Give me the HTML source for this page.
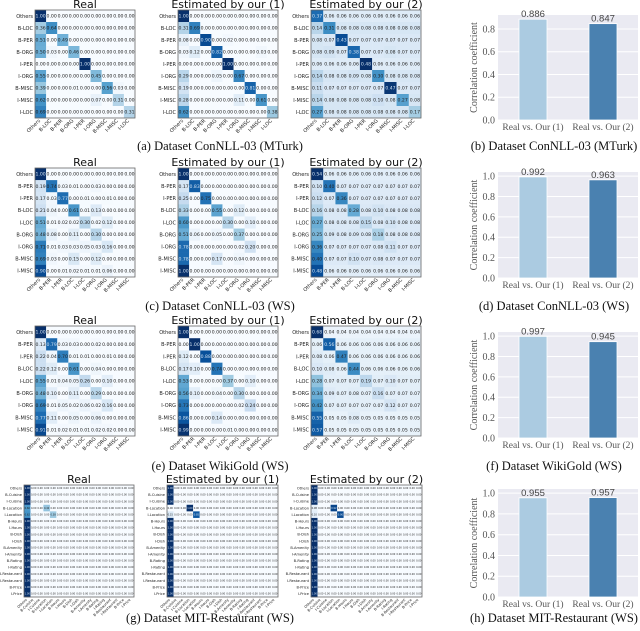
<!DOCTYPE html>
<html><head><meta charset="utf-8">
<style>
html,body{margin:0;padding:0;background:#fff;}
svg{display:block;}
</style></head>
<body>
<svg id="fig" width="640" height="631" viewBox="0 0 640 631" xmlns="http://www.w3.org/2000/svg"></svg>
<script>
// ---------- DATA ----------
const conllMturkLabels = ["Others","B-LOC","B-PER","B-ORG","I-PER","I-ORG","B-MISC","I-MISC","I-LOC"];
const conllWsLabels = ["Others","B-PER","I-PER","B-LOC","I-LOC","B-ORG","I-ORG","B-MISC","I-MISC"];
const mitLabels = ["Others","B-Cuisine","I-Cuisine","B-Location","I-Location","B-Hours","I-Hours","B-Dish","I-Dish","B-Amenity","I-Amenity","B-Rating","I-Rating","B-Restaurant","I-Restaurant","B-Price","I-Price"];

const aReal = [
[1,0,0,0,0,0,0,0,0],[.36,.64,0,0,0,0,0,0,0],[.51,0,.49,0,0,0,0,0,0],[.50,.03,0,.46,0,0,0,0,0],
[0,0,0,0,1,0,0,0,0],[.55,0,0,0,0,.45,0,0,0],[.39,0,0,.01,0,0,.56,.03,0],[.62,0,0,0,0,.07,0,.31,0],[.69,0,0,0,0,0,0,0,.31]];
const aEst1 = [
[1,0,0,0,0,0,0,0,0],[.31,.69,0,0,0,0,0,0,0],[.08,0,.90,0,.02,0,0,0,0],[.03,.12,0,.82,0,0,0,.03,0],
[0,0,0,0,1,0,0,0,0],[.29,0,0,.05,0,.67,0,0,0],[.19,0,0,0,0,0,.81,0,0],[.28,0,0,0,0,.11,0,.61,0],[.62,0,0,0,0,0,0,0,.38]];
const aEst2 = [
[.37,.06,.06,.06,.06,.06,.06,.06,.06],[.14,.31,.08,.08,.08,.08,.08,.08,.08],[.08,.07,.43,.07,.07,.07,.07,.07,.07],
[.08,.09,.07,.38,.07,.07,.08,.07,.07],[.06,.06,.06,.06,.48,.06,.06,.06,.06],[.14,.08,.08,.09,.08,.30,.08,.08,.08],
[.11,.07,.07,.07,.07,.07,.47,.07,.07],[.14,.08,.08,.08,.08,.10,.08,.27,.08],[.27,.08,.08,.08,.08,.08,.08,.08,.17]];

const cReal = [
[1,0,0,0,0,0,0,0,0],[.19,.74,.03,.01,0,.03,0,0,0],[.17,.03,.77,0,.01,0,.01,0,0],[.21,.04,0,.61,.01,.13,0,0,0],
[.51,.01,.02,.02,.30,.02,.12,0,0],[.48,.08,0,.11,0,.30,0,0,0],[.71,.01,.03,.03,.05,.03,.16,0,0],
[.69,.03,0,.15,0,.12,0,0,0],[.90,0,.01,.02,.01,.01,.06,0,0]];
const cEst1 = [
[1,0,0,0,0,0,0,0,0],[.17,.83,0,0,0,0,0,0,0],[.25,0,.75,0,0,0,0,0,0],[.33,0,0,.55,0,.12,0,0,0],
[.60,0,0,0,.30,0,.10,0,0],[.51,.06,0,.05,0,.37,0,0,0],[.78,0,0,0,0,.02,.20,0,0],
[.78,0,0,.17,0,.04,0,0,0],[1,0,0,0,0,0,0,0,0]];
const cEst2 = [
[.54,.06,.06,.06,.06,.06,.06,.06,.06],[.10,.40,.07,.07,.07,.07,.07,.07,.07],[.12,.07,.36,.07,.07,.07,.07,.07,.07],
[.16,.08,.08,.28,.08,.10,.08,.08,.08],[.27,.08,.08,.08,.15,.08,.10,.08,.08],[.25,.09,.08,.09,.08,.18,.08,.08,.08],
[.36,.07,.07,.07,.07,.08,.11,.07,.07],[.40,.07,.07,.10,.07,.08,.07,.07,.07],[.48,.06,.06,.06,.06,.06,.06,.06,.06]];

const eReal = [
[1,0,0,0,0,0,0,0,0],[.13,.79,.03,.03,0,.02,0,0,0],[.22,.04,.70,.01,.01,0,.01,0,0],[.22,.12,0,.61,0,.04,0,0,0],
[.55,.01,.04,.05,.26,0,.10,0,0],[.48,.10,0,.11,0,.29,0,0,0],[.69,.01,.05,.02,.06,.02,.16,0,0],
[.77,.11,0,.05,0,.06,0,0,0],[.91,.01,.02,.01,.01,.02,.02,0,0]];
const eEst1 = [
[1,0,0,0,0,0,0,0,0],[0,1,0,0,0,0,0,0,0],[.12,0,.88,0,0,0,0,0,0],[.17,.10,0,.74,0,0,0,0,0],
[.53,0,0,0,.37,0,.10,0,0],[.56,.10,0,.04,0,.30,0,0,0],[.73,0,0,0,0,.02,.24,0,0],
[.86,0,0,.14,0,0,0,0,0],[.99,0,0,0,.01,0,0,0,0]];
const eEst2 = [
[.68,.04,.04,.04,.04,.04,.04,.04,.04],[.06,.56,.06,.06,.06,.06,.06,.06,.06],[.08,.06,.47,.06,.06,.06,.06,.06,.06],
[.10,.08,.06,.44,.06,.06,.06,.06,.06],[.28,.07,.07,.07,.19,.07,.10,.07,.07],[.34,.09,.07,.08,.07,.16,.07,.07,.07],
[.42,.07,.07,.07,.07,.07,.12,.07,.07],[.55,.05,.05,.08,.05,.05,.05,.05,.05],[.57,.05,.05,.05,.05,.05,.05,.05,.05]];

// MIT-Restaurant: "Others" column per row, plus off-Others cells [row, col, value]
const gRealOthers = [1,1,1,.60,.62,1,1,1,1,1,1,1,1,1,1,1,1];
const gRealCells = [[3,3,.40],[4,4,.38]];
const gEst1Others = [1,1,1,0,.15,1,1,1,1,1,1,1,1,1,1,1,1];
const gEst1Cells = [[3,3,1.0],[4,4,.85]];
const gEst2Others = [1,1,1,.08,.10,1,1,1,1,1,1,1,1,1,1,1,1];
const gEst2Cells = [[3,3,.92],[4,4,.90]];

const barCategories = ["Real vs. Our (1)","Real vs. Our (2)"];
const barB = [0.886,0.847];
const barD = [0.992,0.963];
const barF = [0.997,0.945];
const barH = [0.955,0.957];
const yTicksB = [0.0,0.2,0.4,0.6,0.8];
const yTicksOther = [0.0,0.2,0.4,0.6,0.8,1.0];

// ---------- HELPERS ----------
const NS="http://www.w3.org/2000/svg";
const svg=document.getElementById('fig');
function mk(tag,attrs,parent){const e=document.createElementNS(NS,tag);for(const k in attrs)e.setAttribute(k,attrs[k]);(parent||svg).appendChild(e);return e;}
const stops=[[247,251,255],[222,235,247],[198,219,239],[158,202,225],[107,174,214],[66,146,198],[33,113,181],[8,81,156],[8,48,107]];
function blues(t){t=Math.max(0,Math.min(1,t));const p=t*8,i=Math.min(7,Math.floor(p)),f=p-i;const a=stops[i],b=stops[i+1];
return `rgb(${Math.round(a[0]+(b[0]-a[0])*f)},${Math.round(a[1]+(b[1]-a[1])*f)},${Math.round(a[2]+(b[2]-a[2])*f)})`;}
function sparseToMatrix(others,cells,n){const m=[];for(let r=0;r<n;r++){const row=new Array(n).fill(0);row[0]=others[r];m.push(row);}cells.forEach(c=>{m[c[0]][c[1]]=c[2];});return m;}

function heatmap(name,title,mat,labels,x0,y0,w,h,opt){
  const g=mk('g',{});
  
  
  const n=labels.length,cw=w/n,ch=h/n;
  let mx=0;mat.forEach(r=>r.forEach(v=>{if(v>mx)mx=v;}));
  const t=mk('text',{x:x0+w/2,y:y0-2,'text-anchor':'middle','font-family':'DejaVu Sans, sans-serif','font-size':opt.tfs,fill:'#111'},g);
  t.textContent=title;
  
  
  for(let r=0;r<n;r++)for(let c=0;c<n;c++){
    const v=mat[r][c];
    const cell=mk('rect',{x:x0+c*cw,y:y0+r*ch,width:cw+0.2,height:ch+0.2,fill:blues(v/mx)},g);
    
    
    const tx=mk('text',{x:x0+c*cw+cw/2,y:y0+r*ch+ch/2+opt.vfs*0.35,'text-anchor':'middle','font-family':'DejaVu Sans, sans-serif','font-size':opt.vfs,fill:(v/mx>0.75?'#cfe0f0':'#222')},g);
    tx.textContent=v.toFixed(2);
  }
  mk('rect',{x:x0,y:y0,width:w,height:h,fill:'none',stroke:'#666','stroke-width':0.8},g);
  for(let r=0;r<n;r++){
    const l=mk('text',{x:x0-2,y:y0+r*ch+ch/2+opt.lfs*0.35,'text-anchor':'end','font-family':'DejaVu Sans, sans-serif','font-size':opt.lfs,fill:'#222'},g);
    l.textContent=labels[r];
    
    
  }
  for(let c=0;c<n;c++){
    const cx=x0+c*cw+cw/2, cy=y0+h+3;
    const l=mk('text',{x:cx,y:cy,'text-anchor':'end','font-family':'DejaVu Sans, sans-serif','font-size':opt.lfs,fill:'#222',transform:`rotate(-45 ${cx} ${cy})`},g);
    l.textContent=labels[c];
    
    
  }
}

function barChart(name,vals,ticks,ymax,x0,y0,x1,y1){
  const g=mk('g',{});
  
  
  const ys=v=>y1-(v/ymax)*(y1-y0);
  const band=(x1-x0)/barCategories.length;
  const bg=mk('rect',{x:x0,y:y0,width:x1-x0,height:y1-y0,fill:'#eaeaf2'},g);
  
  
  ticks.forEach(tk=>{
    mk('line',{x1:x0,x2:x1,y1:ys(tk),y2:ys(tk),stroke:'#fff','stroke-width':1},g);
    const l=mk('text',{x:x0-3,y:ys(tk)+3.5,'text-anchor':'end','font-family':'Liberation Serif, serif','font-size':10,fill:'#555'},g);
    l.textContent=tk.toFixed(1);
    
    
  });
  const cols=['#abcbe1','#4a81b0'];
  vals.forEach((v,i)=>{
    const cx=x0+band*(i+0.5),bw=band*0.4;
    const b=mk('rect',{x:cx-bw/2,y:ys(v),width:bw,height:y1-ys(v),fill:cols[i],stroke:'#fff','stroke-width':0.8},g);
    
    
    const vl=mk('text',{x:cx,y:ys(v)-2,'text-anchor':'middle','font-family':'Liberation Sans, sans-serif','font-size':9.5,fill:'#444'},g);
    vl.textContent=v.toFixed(3);
    
    
    const xl=mk('text',{x:cx,y:y1+10,'text-anchor':'middle','font-family':'Liberation Serif, serif','font-size':9.5,fill:'#555'},g);
    xl.textContent=barCategories[i];
    
    
  });
  const yc=(y0+y1)/2;
  const yl=mk('text',{x:477,y:yc,'text-anchor':'middle','font-family':'Liberation Serif, serif','font-size':10,fill:'#555',transform:`rotate(-90 477 ${yc})`},g);
  yl.textContent='Correlation coefficient';
  
  
}

function caption(name,text,cx,cy){
  const t=mk('text',{x:cx,y:cy,'text-anchor':'middle','font-family':'Liberation Serif, serif','font-size':12.5,fill:'#111'});
  t.textContent=text;
  
  
}

// ---------- DRAW ----------
const o9={tfs:11,vfs:4.6,lfs:5};
heatmap('heatmap-a-real','Real',aReal,conllMturkLabels,35,10,100,108,o9);
heatmap('heatmap-a-est1','Estimated by our (1)',aEst1,conllMturkLabels,178,10,100,108,o9);
heatmap('heatmap-a-est2','Estimated by our (2)',aEst2,conllMturkLabels,311,10,110,108,o9);
heatmap('heatmap-c-real','Real',cReal,conllWsLabels,35,168,100,109,o9);
heatmap('heatmap-c-est1','Estimated by our (1)',cEst1,conllWsLabels,178,168,100,109,o9);
heatmap('heatmap-c-est2','Estimated by our (2)',cEst2,conllWsLabels,311,168,110,109,o9);
heatmap('heatmap-e-real','Real',eReal,conllWsLabels,35,326,100,110,o9);
heatmap('heatmap-e-est1','Estimated by our (1)',eEst1,conllWsLabels,178,326,100,110,o9);
heatmap('heatmap-e-est2','Estimated by our (2)',eEst2,conllWsLabels,311,326,110,110,o9);
const o17={tfs:11,vfs:2.4,lfs:3.6};
heatmap('heatmap-g-real','Real',sparseToMatrix(gRealOthers,gRealCells,17),mitLabels,24,485,110,112,o17);
heatmap('heatmap-g-est1','Estimated by our (1)',sparseToMatrix(gEst1Others,gEst1Cells,17),mitLabels,167,485,111,112,o17);
heatmap('heatmap-g-est2','Estimated by our (2)',sparseToMatrix(gEst2Others,gEst2Cells,17),mitLabels,311,485,111,112,o17);

barChart('bar-chart-b',barB,yTicksB,0.923,498,15,638,120);
barChart('bar-chart-d',barD,yTicksOther,1.04,498,172,638,278);
barChart('bar-chart-f',barF,yTicksOther,1.04,498,332,638,438);
barChart('bar-chart-h',barH,yTicksOther,1.04,498,489,638,597);

caption('caption-a','(a)  Dataset ConNLL-03 (MTurk)',220,150);
caption('caption-b','(b)  Dataset ConNLL-03 (MTurk)',554,150);
caption('caption-c','(c)  Dataset ConNLL-03 (WS)',220,310);
caption('caption-d','(d)  Dataset ConNLL-03 (WS)',554,310);
caption('caption-e','(e)  Dataset WikiGold (WS)',220,470);
caption('caption-f','(f)  Dataset WikiGold (WS)',554,470);
caption('caption-g','(g)  Dataset MIT-Restaurant (WS)',210,622);
caption('caption-h','(h)  Dataset MIT-Restaurant (WS)',554,622);
</script>
</body></html>
